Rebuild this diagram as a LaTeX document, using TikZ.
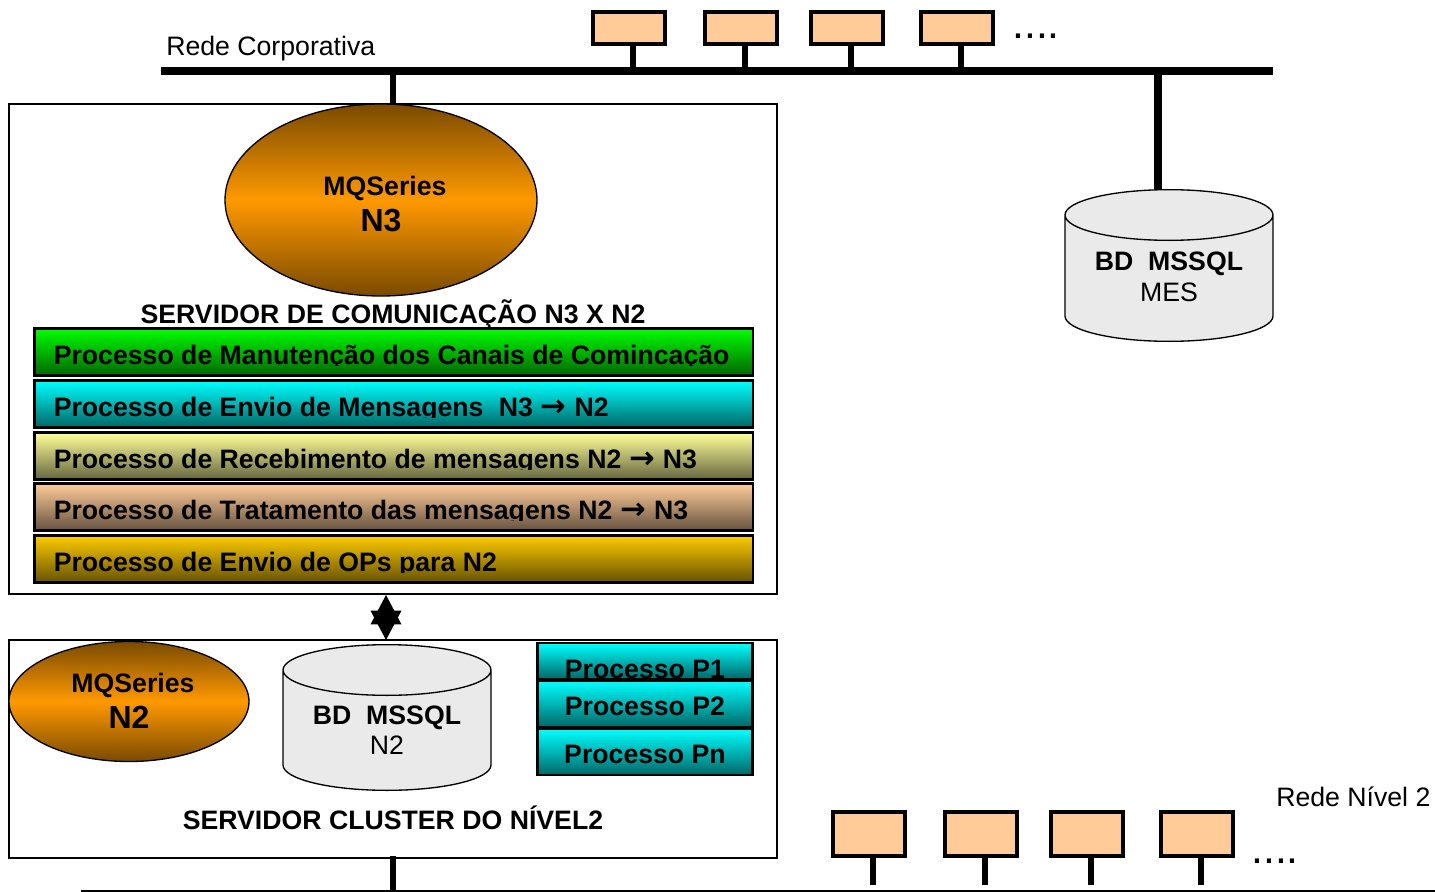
\documentclass[tikz,border=0pt]{standalone}
\usepackage{fontspec}
\setmainfont{Liberation Sans}
\newfontfamily\arrowfont{DejaVu Sans}
\usetikzlibrary{shapes.geometric,arrows.meta}
\definecolor{pcfill}{HTML}{FFCC99}
\definecolor{mqdark}{HTML}{7A4A00}
\definecolor{mqmid}{HTML}{FF9900}
\definecolor{dbfill}{HTML}{EAEAEA}
\newcommand{\arrowsym}{\kern.02em{\arrowfont\bfseries\fontsize{23}{24}\selectfont →}\kern.02em}
% name, centre x, y of upper ellipse, y of lower ellipse
\newcommand{\dbcan}[4]{
  \draw[dbline] ([xshift=-78pt]#2,#3) -- ([xshift=-78pt]#2,#4)
    arc[start angle=180, end angle=360, x radius=78pt, y radius=19pt]
    -- ([xshift=78pt]#2,#3)
    arc[start angle=0, end angle=360, x radius=78pt, y radius=19pt];
  \coordinate (#1) at ([yshift=19pt]#2,#3);
}
\tikzset{
  pcbox/.style={draw, line width=3pt, fill=pcfill, minimum width=54pt, inner sep=0pt},
  stub/.style={line width=4.2pt},
  mqellipse/.style={ellipse, draw, line width=1pt, inner sep=0pt, top color=mqdark, bottom color=mqdark, middle color=mqmid},
  dbline/.style={draw, line width=1pt, fill=dbfill},
  server/.style={draw, line width=1pt, inner sep=0pt},
  barbox/.style={draw, line width=2pt, inner sep=0pt, minimum width=539pt, minimum height=35pt},
  boldtxt/.style={font=\fontsize{20}{24}\selectfont\bfseries, inner sep=0pt},
  bigtxt/.style={font=\fontsize{24}{28}\selectfont\bfseries, inner sep=0pt},
  plaintxt/.style={font=\fontsize{20}{24}\selectfont, inner sep=0pt},
  dotstxt/.style={font=\fontsize{32}{32}\selectfont, inner sep=0pt, anchor=base}
}
\begin{document}
\begin{tikzpicture}[x=0.75pt, y=-0.75pt]
\useasboundingbox (0,0) rectangle (1435,892);

% Corporate network
\node[plaintxt, anchor=base west] (redeA) at (166,56) {Rede Corporativa};
\coordinate (busAl) at (161,71);
\coordinate (busAr) at (1273,71);
\draw[line width=6pt] (busAl) -- (busAr);
\foreach \x/\s/\n in {629/633/1, 741/745/2, 847/851/3, 957/961/4} {
  \node[pcbox, minimum height=24pt] (pcA\n) at (\x,28) {};
  \coordinate (tapA\n) at (\s,68);
  \draw[stub] (pcA\n.south -| tapA\n) -- (tapA\n);
}
\node[dotstxt] (dotsA) at (1036,39) {....};

% Communication server
\node[server, minimum width=576pt, minimum height=367.5pt] (srvN3) at (393,349) {};
\coordinate (tapB) at (393,71);
\draw[stub] (tapB) -- (tapB |- srvN3.north);
\node[mqellipse, minimum width=234pt, minimum height=144pt] (mqN3) at (381,200) {};
\node[boldtxt] (mqN3a) at (385,188) {MQSeries};
\node[bigtxt] (mqN3b) at (381,221) {N3};
\node[boldtxt, anchor=base] (srvN3txt) at (393,323) {SERVIDOR DE COMUNICAÇÃO N3 X N2};

% Process bars
\foreach \y/\cola/\colb/\n/\txt in {
  328/00FF00/006600/1/Processo de Manutenção dos Canais de Comincação,
  380/00FFFF/006666/2/Processo de Envio de Mensagens\kern6pt{} N3 \arrowsym{} N2,
  432/FFFF99/666640/3/Processo de Recebimento de mensagens N2 \arrowsym{} N3,
  483/FFCC99/665240/4/Processo de Tratamento das mensagens N2 \arrowsym{} N3,
  535/FFCC00/665200/5/Processo de Envio de OPs para N2} {
  \definecolor{bartop}{HTML}{\cola}
  \definecolor{barbot}{HTML}{\colb}
  \node[barbox, top color=bartop, bottom color=barbot] (bar\n) at (393.5,\y+24) {};
  \begin{scope}
    \clip (33,\y) rectangle (753,\y+37);
    \node[boldtxt, anchor=base west] (bartxt\n) at (53.5,\y+36) {\txt};
  \end{scope}
}

% Cluster server
\node[server, minimum width=576pt, minimum height=163.5pt] (srvN2) at (393,749) {};
\node[mqellipse, minimum width=180pt, minimum height=90pt] (mqN2) at (129,701.5) {};
\node[boldtxt] (mqN2a) at (133,685) {MQSeries};
\node[bigtxt] (mqN2b) at (129,717) {N2};
\dbcan{dbN2}{387}{670}{765}
\node[boldtxt] (dbN2a) at (387,718) {BD\ \ MSSQL};
\node[plaintxt] (dbN2b) at (387,745) {N2};
\coordinate (arrA) at (386,595);
\coordinate (arrB) at (386,640);
\draw[line width=0.8pt, {Triangle[width=23pt,length=22pt]}-{Triangle[width=23pt,length=22pt]}] (arrA) -- (arrB);

% Processes
\foreach \y/\h/\n/\ty/\txt in {642/38/1/678/Processo P1, 680/48/2/715/Processo P2, 728/48/3/763/Processo Pn} {
  \node[draw, line width=2pt, inner sep=0pt, minimum width=161pt, minimum height=\h*0.75pt-1.5pt, top color=cyan, bottom color=cyan!40!black] (proc\n) at (645,\y+\h/2) {};
  \node[boldtxt, anchor=base] (proctxt\n) at (645,\ty) {\txt};
}
\node[boldtxt, anchor=base] (srvN2txt) at (393,829) {SERVIDOR CLUSTER DO NÍVEL2};

% Level 2 network
\coordinate (busBl) at (81,891);
\coordinate (busBr) at (1435,891);
\draw[line width=1.5pt] (busBl) -- (busBr);
\coordinate (tapC) at (393,891);
\draw[stub] (tapC |- srvN2.south) ++(0,-3) -- (tapC);
\foreach \x/\s/\n in {869/873/1, 981/985/2, 1087/1091/3, 1197/1201/4} {
  \node[pcbox, minimum height=33pt] (pcB\n) at (\x,834) {};
  \coordinate (tapB\n) at (\s,885);
  \draw[stub] (pcB\n.south -| tapB\n) -- (tapB\n);
}
\node[dotstxt] (dotsB) at (1275,863) {....};
\node[plaintxt, anchor=base west] (redeB) at (1276,806) {Rede Nível 2};

% MES database
\coordinate (tapM) at (1158,71);
\draw[line width=5.6pt] (tapM) -- (tapM |- 0,189);
\dbcan{dbMES}{1169}{215}{316}
\node[boldtxt] (dbMESa) at (1169,264) {BD\ \ MSSQL};
\node[plaintxt] (dbMESb) at (1169,292) {MES};
\end{tikzpicture}
\end{document}
